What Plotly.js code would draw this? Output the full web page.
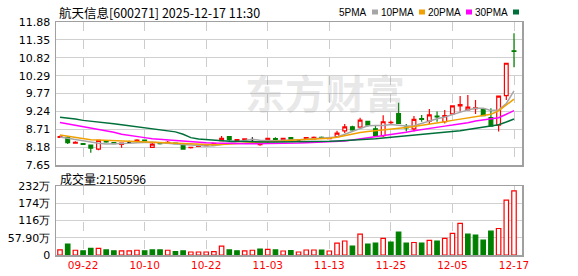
<!DOCTYPE html>
<html><head><meta charset="utf-8">
<script src="https://cdn.plot.ly/plotly-3.0.1.min.js"></script>
<style>html,body{margin:0;padding:0;background:#fff;overflow:hidden}</style>
</head><body><div id="chart" style="width:578px;height:276px"></div>
<script>
const dates = ['09-17','09-18','09-19','09-22','09-23','09-24','09-25','09-26','09-29','09-30',
 '10-09','10-10','10-13','10-14','10-15','10-16','10-17','10-20','10-21','10-22',
 '10-23','10-24','10-27','10-28','10-29','10-30','10-31','11-03','11-04','11-05',
 '11-06','11-07','11-10','11-11','11-12','11-13','11-14','11-17','11-18','11-19',
 '11-20','11-21','11-24','11-25','11-26','11-27','11-28','12-01','12-02','12-03',
 '12-04','12-05','12-08','12-09','12-10','12-11','12-12','12-15','12-16','12-17'];
const openP = [8.47,8.47,8.30,8.28,8.24,8.12,8.36,8.31,8.26,8.32,
 8.36,8.39,8.17,8.31,8.30,8.30,8.24,8.16,8.20,8.22,
 8.24,8.37,8.49,8.37,8.40,8.40,8.25,8.37,8.43,8.37,
 8.46,8.37,8.41,8.42,8.47,8.43,8.49,8.66,8.78,8.77,
 8.94,8.72,8.52,8.90,9.17,8.77,8.72,9.02,8.95,9.10,
 8.93,9.16,9.40,9.28,9.32,9.31,9.05,8.83,9.70,11.03];
const highP = [8.52,8.50,8.35,8.30,8.26,8.39,8.38,8.32,8.31,8.37,
 8.41,8.40,8.33,8.32,8.36,8.31,8.25,8.18,8.24,8.26,
 8.30,8.51,8.50,8.42,8.43,8.47,8.27,8.45,8.47,8.45,
 8.48,8.40,8.47,8.49,8.49,8.46,8.66,8.86,8.81,9.05,
 8.96,8.83,9.12,8.96,9.49,8.86,9.10,9.13,9.31,9.23,
 9.28,9.40,9.69,9.72,9.57,9.33,9.33,9.70,10.66,11.55];
const lowP = [8.45,8.27,8.28,8.24,8.01,8.09,8.31,8.27,8.16,8.29,
 8.34,8.35,8.15,8.26,8.28,8.27,8.11,8.14,8.18,8.21,
 8.23,8.35,8.37,8.36,8.38,8.31,8.22,8.27,8.38,8.36,
 8.40,8.35,8.40,8.41,8.43,8.41,8.47,8.60,8.66,8.75,
 8.79,8.50,8.48,8.85,8.86,8.64,8.64,8.93,8.86,8.93,
 8.88,9.13,9.23,9.26,9.16,9.10,8.79,8.64,9.57,10.54];
const closeP = [8.49,8.31,8.32,8.26,8.15,8.38,8.33,8.28,8.30,8.32,
 8.39,8.36,8.27,8.28,8.32,8.28,8.12,8.17,8.23,8.25,
 8.29,8.44,8.40,8.40,8.42,8.40,8.27,8.44,8.41,8.44,
 8.41,8.37,8.46,8.47,8.45,8.45,8.59,8.78,8.69,8.98,
 8.83,8.52,8.93,8.91,8.88,8.75,9.00,9.00,9.13,9.07,
 9.11,9.40,9.44,9.36,9.34,9.11,8.80,9.69,10.66,11.01];
// volume in 万 shares
const volume = [17,37,16,14,22,22,17,14,14,14,
 16,14,17,17,16,11,14,10,10,10,
 11,30,17,14,14,16,20,19,17,13.4,
 14.5,10,16.7,16.7,16.7,13.4,40,47,30,70,
 37,40,56,43.5,77,40,42,40,49,47,
 56,72.5,106,70,67,50,80,89,184,215.0596];
const volumeDirection = [1,-1,1,-1,-1,1,-1,-1,1,1,
 1,-1,-1,-1,1,-1,-1,1,1,1,
 1,1,-1,-1,1,1,-1,1,-1,1,
 -1,1,1,1,-1,1,1,1,-1,1,
 -1,-1,1,-1,-1,-1,1,-1,1,-1,
 1,1,1,-1,-1,-1,-1,1,1,1];
const ma5 = [8.48,8.44,8.40,8.36,8.32,8.29,8.27,8.27,8.27,8.29,
 8.31,8.32,8.32,8.31,8.30,8.29,8.26,8.24,8.22,8.21,
 8.22,8.26,8.31,8.35,8.39,8.41,8.38,8.37,8.37,8.38,
 8.40,8.40,8.41,8.43,8.44,8.45,8.48,8.56,8.64,8.74,
 8.81,8.82,8.82,8.85,8.82,8.80,8.81,8.88,8.96,9.02,
 9.07,9.14,9.22,9.28,9.33,9.33,9.26,9.28,9.47,9.84];
const ma10 = [8.54,8.50,8.46,8.42,8.40,8.39,8.38,8.37,8.36,8.35,
 8.35,8.34,8.33,8.32,8.31,8.30,8.28,8.26,8.25,8.25,
 8.25,8.26,8.27,8.28,8.29,8.31,8.32,8.33,8.35,8.36,
 8.38,8.39,8.40,8.41,8.42,8.44,8.47,8.52,8.57,8.61,
 8.64,8.66,8.69,8.71,8.74,8.76,8.79,8.82,8.86,8.89,
 8.93,8.97,9.01,9.05,9.09,9.12,9.15,9.25,9.42,9.60];
const ma20 = [8.91,8.87,8.83,8.79,8.76,8.72,8.68,8.62,8.56,8.52,
 8.49,8.46,8.43,8.41,8.39,8.37,8.36,8.34,8.32,8.31,
 8.30,8.29,8.28,8.28,8.28,8.28,8.28,8.29,8.29,8.29,
 8.30,8.30,8.31,8.32,8.33,8.33,8.34,8.36,8.39,8.42,
 8.46,8.49,8.52,8.55,8.59,8.62,8.66,8.70,8.74,8.77,
 8.80,8.83,8.86,8.90,8.95,8.99,9.01,9.05,9.15,9.26];
const ma30 = [9.06,9.04,9.01,8.97,8.95,8.93,8.90,8.87,8.84,8.81,
 8.79,8.76,8.72,8.70,8.67,8.63,8.56,8.46,8.42,8.40,
 8.38,8.36,8.35,8.35,8.34,8.33,8.33,8.33,8.33,8.33,
 8.34,8.34,8.34,8.34,8.35,8.35,8.36,8.37,8.38,8.40,
 8.42,8.43,8.45,8.47,8.50,8.52,8.54,8.56,8.58,8.59,
 8.61,8.63,8.66,8.70,8.73,8.76,8.79,8.84,8.92,9.01];
const dateTicks = ['09-22','10-10','10-22','11-03','11-13','11-25','12-05','12-17'];
const priceTicks = [7.65,8.18,8.71,9.24,9.77,10.29,10.82,11.35,11.88];
const volumeTicks = [0,57.9,115.8,173.7,231.6];
const volumeTickText = ['0','57.90万','116万','174万','232万'];
const stockTitle = '航天信息[600271] 2025-12-17 11:30';
const volumeLabel = '成交量:2150596';
const maNames = ['5PMA','10PMA','20PMA','30PMA'];
const maSeries = [ma5, ma10, ma20, ma30];

const RED = '#ff0000', GREEN = '#008000';
const maColors = ['#a6a6a6','#f0a000','#ff00ff','#00703a'];

// geometry helpers (pixel -> paper)
const L = 56, R = 522, T = 22, B = 255;
const px = x => (x - L) / (R - L);
const py = y => (B - y) / (B - T);

const isDoji = dates.map((d,i) => openP[i] === closeP[i]);
const pick = (arr, cond) => arr.map((v,i) => cond(i) ? v : null);

const traces = [];
maSeries.forEach((s, k) => traces.push({
  type:'scatter', mode:'lines', x:dates, y:s, xaxis:'x', yaxis:'y',
  line:{color:maColors[k], width:1.5}, hoverinfo:'skip'
}));
traces.push({
  type:'candlestick', x:dates, xaxis:'x', yaxis:'y',
  open:pick(openP, i=>!isDoji[i]), high:pick(highP, i=>!isDoji[i]),
  low:pick(lowP, i=>!isDoji[i]), close:pick(closeP, i=>!isDoji[i]),
  increasing:{line:{color:RED, width:1.2}, fillcolor:'#ffffff'},
  decreasing:{line:{color:GREEN, width:1.2}, fillcolor:GREEN},
  whiskerwidth:0, hoverinfo:'skip'
});
traces.push({
  type:'candlestick', x:dates, xaxis:'x', yaxis:'y',
  open:pick(openP, i=>isDoji[i]), high:pick(highP, i=>isDoji[i]),
  low:pick(lowP, i=>isDoji[i]), close:pick(closeP, i=>isDoji[i]),
  increasing:{line:{color:'#000', width:1.2}, fillcolor:'#000'},
  decreasing:{line:{color:'#000', width:1.2}, fillcolor:'#000'},
  whiskerwidth:0, hoverinfo:'skip'
});
traces.push({
  type:'bar', x:dates, y:volume, xaxis:'x2', yaxis:'y2', width:0.58,
  marker:{color:volumeDirection.map(d => d > 0 ? '#ffffff' : GREEN),
          line:{color:volumeDirection.map(d => d > 0 ? RED : GREEN), width:1.2}},
  hoverinfo:'skip'
});

const axisCommon = {showline:true, mirror:true, linecolor:'#a0a0a0', linewidth:1.5,
  zeroline:false, ticks:'', fixedrange:true};
const xCommon = Object.assign({}, axisCommon, {
  type:'category', categoryorder:'array', categoryarray:dates,
  range:[-0.52, 60.04], tickvals:dateTicks, ticktext:dateTicks,
  showgrid:true, gridcolor:'#cccccc', griddash:'dash', gridwidth:1
});

const annotations = [
  {xref:'paper', yref:'paper', x:px(57), y:py(12), xanchor:'left', yanchor:'middle',
   text:stockTitle, showarrow:false, font:{family:'Noto Sans CJK SC', size:12.5, color:'#000'}},
  {xref:'paper', yref:'paper', x:px(58), y:py(178), xanchor:'left', yanchor:'middle',
   text:volumeLabel, showarrow:false, font:{family:'Noto Sans CJK SC', size:12, color:'#000'}},
  {xref:'paper', yref:'paper', x:px(325), y:py(92), xanchor:'center', yanchor:'middle',
   text:'东方财富', showarrow:false, font:{family:'Noto Sans CJK SC', size:40, color:'rgba(150,150,150,0.22)', weight:700}}
];
const shapes = [];
const legendRight = [369, 416, 463, 510];
maNames.forEach((n, k) => {
  annotations.push({xref:'paper', yref:'paper', x:px(legendRight[k]), y:py(12), xanchor:'right', yanchor:'middle',
    text:n, showarrow:false, font:{family:'Liberation Sans', size:10, color:'#000'}});
  shapes.push({type:'rect', xref:'paper', yref:'paper', x0:px(legendRight[k]+3), x1:px(legendRight[k]+9),
    y0:py(14.5), y1:py(9.5), fillcolor:maColors[k], line:{width:0}});
});

const layout = {
  width:578, height:276, margin:{l:L, r:578-R, t:T, b:276-B, pad:0},
  paper_bgcolor:'#fff', plot_bgcolor:'#fff', showlegend:false, dragmode:false,
  xaxis:Object.assign({}, xCommon, {anchor:'y', showticklabels:false, rangeslider:{visible:false}}),
  xaxis2:Object.assign({}, xCommon, {anchor:'y2', matches:'x', showticklabels:true,
    tickfont:{family:'DejaVu Sans', size:10.5, color:RED}, rangeslider:{visible:false}}),
  yaxis:Object.assign({}, axisCommon, {domain:[py(165), 1], range:[7.65, 11.88],
    tickvals:priceTicks, ticktext:priceTicks.map(v => v.toFixed(2)),
    showgrid:true, gridcolor:'#d0d0d0', gridwidth:1,
    tickfont:{family:'DejaVu Sans', size:11, color:'#000'}, ticklabelstandoff:2}),
  yaxis2:Object.assign({}, axisCommon, {domain:[0, py(186)], range:[0, 231.6],
    tickvals:volumeTicks, ticktext:volumeTickText,
    showgrid:true, gridcolor:'#d0d0d0', gridwidth:1,
    tickfont:{family:'DejaVu Sans', size:11, color:'#000'}, ticklabelstandoff:2}),
  annotations:annotations, shapes:shapes
};

Plotly.newPlot('chart', traces, layout, {staticPlot:true, displayModeBar:false});
</script>
</body></html>
